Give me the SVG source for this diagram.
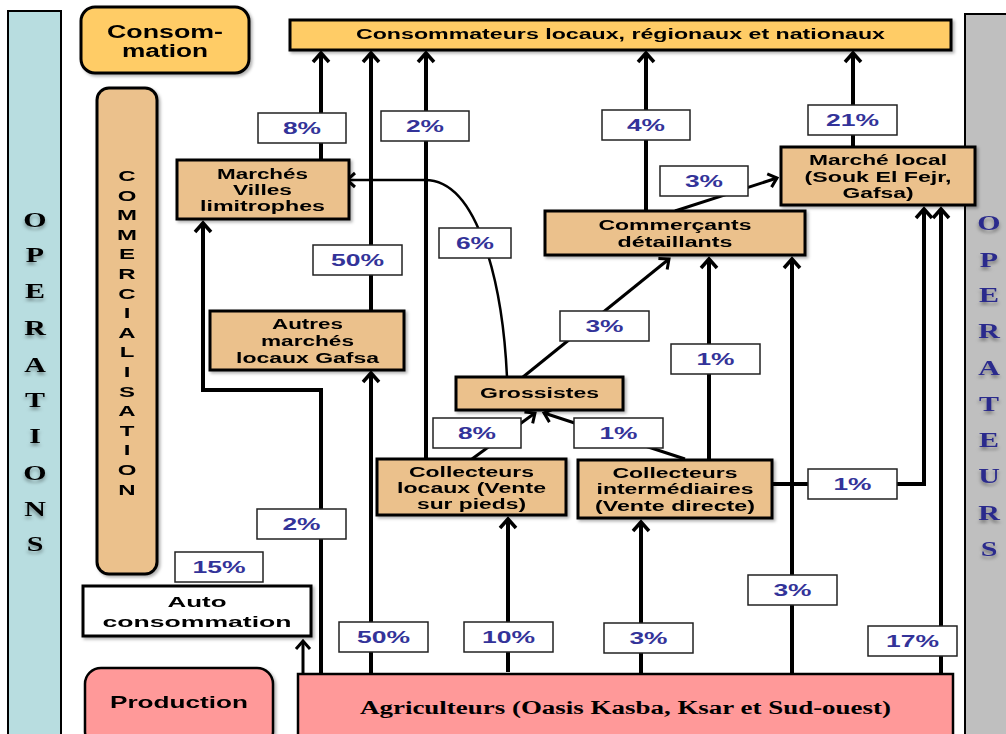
<svg xmlns="http://www.w3.org/2000/svg" width="1006" height="734" viewBox="0 0 1006 734">
<style>
.node{fill:#EBC18C;stroke:#000;stroke-width:3}
.yel{fill:#FFCC66;stroke:#000;stroke-width:3}
.pink{fill:#FF9999;stroke:#000;stroke-width:2.5}
.nt{font-family:"Liberation Sans",Arial,sans-serif;font-weight:bold;font-size:14.5px;fill:#000;text-anchor:middle}
.lb rect{fill:#fff;stroke:#222;stroke-width:1.5}
.lb text{font-family:"Liberation Sans",Arial,sans-serif;font-weight:bold;font-size:16px;fill:#333399;text-anchor:middle}
.c{fill:none;stroke:#000;stroke-width:4}
.cs{fill:none;stroke:#000;stroke-width:3}
.ser{font-family:"Liberation Serif","Times New Roman",serif;font-weight:bold;font-size:20px;text-anchor:middle}
.cm{font-family:"Liberation Sans",Arial,sans-serif;font-weight:bold;font-size:15px;text-anchor:middle;fill:#000}
</style>
<defs>
<marker id="ah" markerUnits="userSpaceOnUse" viewBox="-14 -12 18 24" refX="0" refY="0" markerWidth="18" markerHeight="24" orient="auto" overflow="visible">
<path d="M-9,-8 L0,0 L-9,8" fill="none" stroke="#000" stroke-width="3.5"/>
</marker>
<marker id="ahs" markerUnits="userSpaceOnUse" viewBox="-14 -12 18 24" refX="0" refY="0" markerWidth="18" markerHeight="24" orient="auto" overflow="visible">
<path d="M-8,-7 L0,0 L-8,7" fill="none" stroke="#000" stroke-width="3"/>
</marker>
<filter id="sh" x="-10%" y="-10%" width="130%" height="140%">
<feDropShadow dx="2" dy="2" stdDeviation="1.5" flood-color="#000" flood-opacity="0.3"/>
</filter>
<filter id="ls" x="-50%" y="-50%" width="200%" height="200%">
<feDropShadow dx="0" dy="3" stdDeviation="1.5" flood-color="#000" flood-opacity="0.35"/>
</filter>
</defs>

<g id="band-operations">
<rect x="8" y="11" width="53" height="740" fill="#B8DDE0" stroke="#000" stroke-width="2"/>
<g transform="translate(35 0) scale(1.5 1)" class="ser" fill="#000" filter="url(#ls)">
<text x="0" y="227">O</text><text x="0" y="262">P</text><text x="0" y="298">E</text><text x="0" y="335">R</text><text x="0" y="372">A</text><text x="0" y="407">T</text><text x="0" y="443">I</text><text x="0" y="480">O</text><text x="0" y="516">N</text><text x="0" y="551">S</text>
</g>
</g>

<g id="band-operateurs">
<rect x="965" y="14" width="50" height="740" fill="#BFBFBF" stroke="#000" stroke-width="2"/>
<g transform="translate(989 0) scale(1.5 1)" class="ser" fill="#2B2B8C" filter="url(#ls)">
<text x="0" y="230">O</text><text x="0" y="267">P</text><text x="0" y="302">E</text><text x="0" y="338">R</text><text x="0" y="375">A</text><text x="0" y="411">T</text><text x="0" y="447">E</text><text x="0" y="483">U</text><text x="0" y="520">R</text><text x="0" y="556">S</text>
</g>
</g>

<g id="consommation-label" filter="url(#sh)">
<rect x="81" y="7" width="168" height="66" rx="14" class="yel"/>
<text class="nt" style="font-size:18px" x="165" y="38" textLength="116" lengthAdjust="spacingAndGlyphs">Consom-</text>
<text class="nt" style="font-size:18px" x="165" y="57" textLength="86" lengthAdjust="spacingAndGlyphs">mation</text>
</g>

<g id="commercialisation-label" filter="url(#sh)">
<rect x="97" y="88" width="60" height="486" rx="12" class="node"/>
<g transform="translate(127 0) scale(1.6 1)" class="cm">
<text x="0" y="181">C</text><text x="0" y="200.6">O</text><text x="0" y="220.2">M</text><text x="0" y="239.8">M</text><text x="0" y="259.4">E</text><text x="0" y="279">R</text><text x="0" y="298.6">C</text><text x="0" y="318.2">I</text><text x="0" y="337.8">A</text><text x="0" y="357.4">L</text><text x="0" y="377">I</text><text x="0" y="396.6">S</text><text x="0" y="416.2">A</text><text x="0" y="435.8">T</text><text x="0" y="455.4">I</text><text x="0" y="475">O</text><text x="0" y="494.6">N</text>
</g>
</g>

<g id="production-label" filter="url(#sh)">
<rect x="85" y="668" width="188" height="80" rx="16" class="pink" stroke-width="3"/>
<text class="nt" style="font-size:17px" x="179" y="708" textLength="138" lengthAdjust="spacingAndGlyphs">Production</text>
</g>

<g id="connectors">
<path class="c" d="M321,160 L321,53" marker-end="url(#ah)"/>
<path class="c" d="M371,311 L371,53" marker-end="url(#ah)"/>
<path class="c" d="M426,459 L426,53" marker-end="url(#ah)"/>
<path class="c" d="M646,211 L646,53" marker-end="url(#ah)"/>
<path class="c" d="M853,147 L853,53" marker-end="url(#ah)"/>
<path class="c" d="M321,674 L321,390 L203,390 L203,223" marker-end="url(#ah)"/>
<path class="c" d="M371,674 L371,373" marker-end="url(#ah)"/>
<path class="c" d="M508,672 L508,519" marker-end="url(#ah)"/>
<path class="c" d="M641,674 L641,522" marker-end="url(#ah)"/>
<path class="c" d="M709,459 L709,259" marker-end="url(#ah)"/>
<path class="c" d="M792,674 L792,259" marker-end="url(#ah)"/>
<path class="c" d="M772,484 L924,484 L924,209" marker-end="url(#ah)"/>
<path class="c" d="M941,674 L941,209" marker-end="url(#ah)"/>
<path class="cs" d="M303,674 L303,641" marker-end="url(#ahs)"/>
<path class="cs" style="stroke-width:2.5" d="M507,377 C503,290 480,180 425,180 L347,180" marker-end="url(#ahs)"/>
<path class="cs" d="M523,377 L669,259" marker-end="url(#ahs)"/>
<path class="cs" d="M472,459 L535,413" marker-end="url(#ahs)"/>
<path class="cs" d="M685,459 L544,413" marker-end="url(#ahs)"/>
<path class="cs" d="M675,211 L777,178" marker-end="url(#ahs)"/>
</g>

<g id="consommateurs" filter="url(#sh)">
<rect x="290" y="20" width="661" height="30" class="yel"/>
<text class="nt" style="font-size:14px" x="620.5" y="39" textLength="529" lengthAdjust="spacingAndGlyphs">Consommateurs locaux, régionaux et nationaux</text>
</g>

<g id="marches-villes" filter="url(#sh)">
<rect x="177" y="160" width="172" height="59" class="node"/>
<text class="nt" x="262.5" y="179" textLength="91" lengthAdjust="spacingAndGlyphs">Marchés</text>
<text class="nt" x="262.5" y="195" textLength="59" lengthAdjust="spacingAndGlyphs">Villes</text>
<text class="nt" x="262.5" y="211" textLength="125" lengthAdjust="spacingAndGlyphs">limitrophes</text>
</g>

<g id="autres-marches" filter="url(#sh)">
<rect x="210" y="311" width="194" height="59" class="node"/>
<text class="nt" x="307.5" y="329" textLength="71" lengthAdjust="spacingAndGlyphs">Autres</text>
<text class="nt" x="307.5" y="346" textLength="93" lengthAdjust="spacingAndGlyphs">marchés</text>
<text class="nt" x="307.5" y="363" textLength="143" lengthAdjust="spacingAndGlyphs">locaux Gafsa</text>
</g>

<g id="grossistes" filter="url(#sh)">
<rect x="456" y="377" width="167" height="33" class="node"/>
<text class="nt" x="539.5" y="398" textLength="119" lengthAdjust="spacingAndGlyphs">Grossistes</text>
</g>

<g id="commercants" filter="url(#sh)">
<rect x="545" y="211" width="260" height="44" class="node"/>
<text class="nt" x="675" y="230" textLength="153" lengthAdjust="spacingAndGlyphs">Commerçants</text>
<text class="nt" x="675" y="247" textLength="115" lengthAdjust="spacingAndGlyphs">détaillants</text>
</g>

<g id="marche-local" filter="url(#sh)">
<rect x="781" y="147" width="194" height="58" class="node"/>
<text class="nt" x="878" y="165" textLength="138" lengthAdjust="spacingAndGlyphs">Marché local</text>
<text class="nt" x="878" y="182" textLength="147" lengthAdjust="spacingAndGlyphs">(Souk El Fejr,</text>
<text class="nt" x="878" y="198" textLength="71" lengthAdjust="spacingAndGlyphs">Gafsa)</text>
</g>

<g id="collecteurs-locaux" filter="url(#sh)">
<rect x="377" y="459" width="189" height="56" class="node"/>
<text class="nt" x="471.5" y="477" textLength="125" lengthAdjust="spacingAndGlyphs">Collecteurs</text>
<text class="nt" x="471.5" y="493" textLength="149" lengthAdjust="spacingAndGlyphs">locaux (Vente</text>
<text class="nt" x="471.5" y="509" textLength="109" lengthAdjust="spacingAndGlyphs">sur pieds)</text>
</g>

<g id="collecteurs-intermediaires" filter="url(#sh)">
<rect x="578" y="460" width="194" height="58" class="node"/>
<text class="nt" x="675" y="478" textLength="125" lengthAdjust="spacingAndGlyphs">Collecteurs</text>
<text class="nt" x="675" y="494" textLength="157" lengthAdjust="spacingAndGlyphs">intermédiaires</text>
<text class="nt" x="675" y="511" textLength="160" lengthAdjust="spacingAndGlyphs">(Vente directe)</text>
</g>

<g id="auto-consommation" filter="url(#sh)">
<rect x="83" y="586" width="228" height="50" fill="#fff" stroke="#000" stroke-width="3"/>
<text class="nt" style="font-size:15px" x="197" y="607" textLength="59" lengthAdjust="spacingAndGlyphs">Auto</text>
<text class="nt" style="font-size:15px" x="197" y="627" textLength="189" lengthAdjust="spacingAndGlyphs">consommation</text>
</g>

<g id="agriculteurs">
<rect x="298" y="674" width="655" height="80" class="pink"/>
<text x="625.5" y="714" font-family="Liberation Serif,'Times New Roman',serif" font-weight="bold" font-size="18" text-anchor="middle" textLength="531" lengthAdjust="spacingAndGlyphs">Agriculteurs (Oasis Kasba, Ksar et Sud-ouest)</text>
</g>

<g id="labels" class="lb">
<rect x="258" y="113" width="88" height="30"/><text x="302" y="134" textLength="38" lengthAdjust="spacingAndGlyphs">8%</text>
<rect x="381" y="111" width="88" height="30"/><text x="425" y="132" textLength="38" lengthAdjust="spacingAndGlyphs">2%</text>
<rect x="602" y="110" width="88" height="30"/><text x="646" y="131" textLength="38" lengthAdjust="spacingAndGlyphs">4%</text>
<rect x="808" y="105" width="89" height="30"/><text x="852.5" y="126" textLength="53" lengthAdjust="spacingAndGlyphs">21%</text>
<rect x="313" y="245" width="89" height="30"/><text x="357.5" y="266" textLength="53" lengthAdjust="spacingAndGlyphs">50%</text>
<rect x="439" y="228" width="72" height="30"/><text x="475" y="249" textLength="38" lengthAdjust="spacingAndGlyphs">6%</text>
<rect x="660" y="166" width="88" height="30"/><text x="704" y="187" textLength="38" lengthAdjust="spacingAndGlyphs">3%</text>
<rect x="560" y="311" width="89" height="30"/><text x="604.5" y="332" textLength="38" lengthAdjust="spacingAndGlyphs">3%</text>
<rect x="671" y="344" width="89" height="30"/><text x="715.5" y="365" textLength="38" lengthAdjust="spacingAndGlyphs">1%</text>
<rect x="433" y="418" width="88" height="30"/><text x="477" y="439" textLength="38" lengthAdjust="spacingAndGlyphs">8%</text>
<rect x="574" y="418" width="89" height="30"/><text x="618.5" y="439" textLength="38" lengthAdjust="spacingAndGlyphs">1%</text>
<rect x="808" y="469" width="89" height="30"/><text x="852.5" y="490" textLength="38" lengthAdjust="spacingAndGlyphs">1%</text>
<rect x="257" y="509" width="89" height="30"/><text x="301.5" y="530" textLength="38" lengthAdjust="spacingAndGlyphs">2%</text>
<rect x="175" y="552" width="88" height="30"/><text x="219" y="573" textLength="53" lengthAdjust="spacingAndGlyphs">15%</text>
<rect x="339" y="622" width="89" height="30"/><text x="383.5" y="643" textLength="53" lengthAdjust="spacingAndGlyphs">50%</text>
<rect x="464" y="622" width="89" height="30"/><text x="508.5" y="643" textLength="53" lengthAdjust="spacingAndGlyphs">10%</text>
<rect x="604" y="623" width="89" height="30"/><text x="648.5" y="644" textLength="38" lengthAdjust="spacingAndGlyphs">3%</text>
<rect x="748" y="575" width="89" height="30"/><text x="792.5" y="596" textLength="38" lengthAdjust="spacingAndGlyphs">3%</text>
<rect x="868" y="626" width="89" height="30"/><text x="912.5" y="647" textLength="53" lengthAdjust="spacingAndGlyphs">17%</text>
</g>
</svg>
